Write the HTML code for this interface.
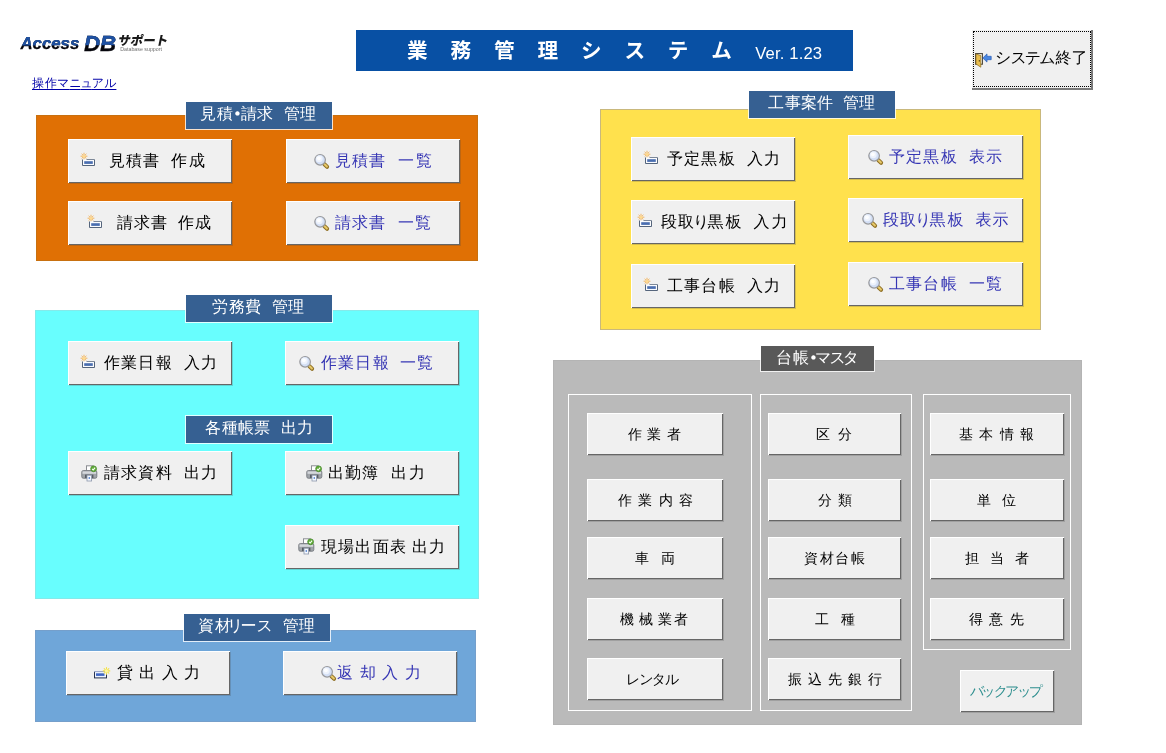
<!DOCTYPE html>
<html lang="ja"><head><meta charset="utf-8"><title>業務管理システム</title><style>
*{box-sizing:border-box;margin:0;padding:0}
html,body{width:1166px;height:753px;overflow:hidden;background:#fff}
body{position:relative;font-family:"Liberation Sans","WenQuanYi Zen Hei","IPAGothic",sans-serif;font-size:16px;color:#000}
.p,.b,.lb,.bx,.ic,.t,.logo,.lnk,.ttl{position:absolute}
i{font-style:normal}
i.w{display:inline-block;height:1px}
.lb{color:#fff;font-size:16px;white-space:nowrap;box-shadow:0 0 0 1px rgba(255,255,255,.8)}
.lb span{position:absolute;display:block;line-height:20px;height:20px}
.b{background:#f0f0f0;border-top:1px solid #fff;border-left:1px solid #fff;box-shadow:inset -1px -1px 0 #666,1px 1px 0 rgba(70,70,70,.22);}
.b .t{white-space:nowrap;display:block;margin:-1px 0 0 -1px;line-height:20px;height:20px}
.b .ic{margin:-1px 0 0 -1px}
.b.foc{box-shadow:inset -2px -2px 0 #7a7a7a}
.b.foc:after{content:"";position:absolute;left:1px;top:1px;right:2px;bottom:3px;border:1px dotted #000}
.bx{border:1px solid #fff}
.logo{will-change:transform;left:0;top:0;width:200px;height:60px;font-weight:bold;font-style:italic;white-space:nowrap}
.logo span{position:absolute;line-height:1;color:#06060c}
.l1{left:20.5px;top:36.2px;font-size:16.8px;padding-right:3px;-webkit-text-stroke:0.25px #06060c}
.l2{left:83.9px;top:32.6px;font-size:22.3px;padding-right:3px;-webkit-text-stroke:0.3px #06060c}
.l1:after,.l2:after{position:absolute;left:0;top:0;color:#1e51a3;-webkit-text-stroke-color:#1e51a3;padding-right:3px}
.l1:after{content:"Access";clip-path:inset(0 0 7.4px 0)}
.l2:after{content:"DB";clip-path:inset(0 0 9.7px 0)}
.logo .l3{left:117.8px;top:34.6px;font-size:12.5px;font-family:"Liberation Sans","Noto Sans CJK JP",sans-serif;font-weight:900;color:#1a1a1a;transform:skewX(-12deg);font-style:normal}
.logo .l4{left:120.2px;top:46.8px;font-size:5.3px;font-weight:normal;font-style:normal;color:#707070}
.lnk{top:76px;font-size:12px;line-height:14px;color:#0000a8;text-decoration:underline;text-underline-offset:2px;text-decoration-thickness:1px;white-space:nowrap}
.ttl{will-change:transform;left:356px;top:30px;width:497px;height:41px;background:#0850a4;color:#fff;white-space:nowrap}
.tj{position:absolute;left:51px;top:9px;font-family:"Liberation Sans","Noto Sans CJK JP",sans-serif;font-weight:bold;font-size:20.6px;line-height:24px;word-spacing:17.16px}
.tv{position:absolute;left:399.3px;top:14.2px;font-size:16.6px;line-height:20px;letter-spacing:0.15px}
</style></head><body>
<div class="logo"><span class="l1">Access</span> <span class="l2">DB</span> <span class="l3">サポート</span> <span class="l4">Database support</span></div>
<a class="lnk" style="left:32px;letter-spacing:0px"><i style="letter-spacing:1px">操</i>作マ<i style="letter-spacing:-1px">ニ</i><i style="letter-spacing:-1px">ュ</i>アル</a>
<div class="ttl"><span class="tj">業 務 管 理 シ ス テ ム</span> <span class="tv">Ver. 1.23</span></div>
<div class="b foc" style="left:971px;top:29px;width:122px;height:61px;"><svg class="ic" style="left:4px;top:24px" width="17" height="15" viewBox="0 0 17 15"><rect x="0.6" y="0.6" width="6.8" height="10.6" fill="#fffdf2" stroke="#4c463a" stroke-width="1.1"/><path d="M1 1l4.8 1.6v11.6L1 11z" fill="#e9bd4d" stroke="#8a6a1c" stroke-width="0.7"/><rect x="3.8" y="7" width="1" height="1.6" fill="#54400c"/><path d="M16.2 3.3h-4.2V.9L7.8 5l4.2 4.1V6.7h4.2z" fill="#4a86e0" stroke="#2a5fb8" stroke-width="0.7"/></svg><span class="t" style="left:24px;top:19px;font-size:16px;letter-spacing:-2px"><i style="letter-spacing:-1px">シ</i>ステ<i style="letter-spacing:0px">ム</i><i style="letter-spacing:0px">終</i>了</span></div>
<div class="p" style="left:36px;top:115px;width:442px;height:146px;background:#e07004;box-shadow:inset 0 0 0 1px #c8700f;"></div>
<div class="lb" style="left:186px;top:102px;width:146px;height:27px;background:#366092;"><span style="left:14px;top:2px;letter-spacing:-4px"><i style="letter-spacing:1px">見</i>積<i style="display:inline-block;transform:scale(1.7);margin-right:-4px;letter-spacing:0">・</i><i style="letter-spacing:0px">請</i><i style="letter-spacing:0">求</i><i class="w" style="width:11px"> </i><i style="letter-spacing:0px">管</i>理</span></div>
<div class="b " style="left:68px;top:139px;width:164px;height:44px;"><svg class="ic" style="left:12px;top:13px" width="16" height="16" viewBox="0 0 16 16"><g stroke="#f2ae4e" stroke-width="0.9" stroke-linecap="round"><path d="M4 1.2v6M1 4.2h6M1.9 2.1l4.2 4.2M6.1 2.1L1.9 6.3"/></g><circle cx="4" cy="4.2" r="1.3" fill="#ffdc90"/><path d="M2.5 7.5v6h12v-6" fill="#fbfcfe" stroke="#55657c" stroke-width="1"/><path d="M6.5 7.5h8" stroke="#7d8898" stroke-width="1"/><rect x="4.2" y="9.2" width="8.6" height="2.7" fill="#4a6eb0"/></svg><span class="t" style="left:41px;top:12px;font-size:16px;letter-spacing:1px">見積<i style="letter-spacing:0">書</i><i class="w" style="width:12px"> </i><i style="letter-spacing:2px">作</i>成</span></div>
<div class="b " style="left:286px;top:139px;width:174px;height:44px;"><svg class="ic" style="left:27px;top:13px" width="17" height="18" viewBox="0 0 17 18"><path d="M11.4 12.2l2.7 2.6" stroke="#8f6f22" stroke-width="4" stroke-linecap="round"/><path d="M11.6 12.3l2.3 2.3" stroke="#e6c869" stroke-width="2.1" stroke-linecap="round"/><circle cx="7.1" cy="7.8" r="5.3" fill="#d3dff5" stroke="#98999c" stroke-width="1.2"/><circle cx="6.3" cy="6.8" r="3.4" fill="#eef3fc"/><circle cx="5.9" cy="6.3" r="1.9" fill="#fdfeff"/></svg><span class="t" style="left:49px;top:12px;font-size:16px;color:#3636b4;letter-spacing:1px">見積<i style="letter-spacing:0">書</i><i class="w" style="width:13px"> </i><i style="letter-spacing:2px">一</i>覧</span></div>
<div class="b " style="left:68px;top:201px;width:164px;height:44px;"><svg class="ic" style="left:19px;top:13px" width="16" height="16" viewBox="0 0 16 16"><g stroke="#f2ae4e" stroke-width="0.9" stroke-linecap="round"><path d="M4 1.2v6M1 4.2h6M1.9 2.1l4.2 4.2M6.1 2.1L1.9 6.3"/></g><circle cx="4" cy="4.2" r="1.3" fill="#ffdc90"/><path d="M2.5 7.5v6h12v-6" fill="#fbfcfe" stroke="#55657c" stroke-width="1"/><path d="M6.5 7.5h8" stroke="#7d8898" stroke-width="1"/><rect x="4.2" y="9.2" width="8.6" height="2.7" fill="#4a6eb0"/></svg><span class="t" style="left:49px;top:12px;font-size:16px;letter-spacing:1px">請求<i style="letter-spacing:0">書</i><i class="w" style="width:11px"> </i>作成</span></div>
<div class="b " style="left:286px;top:201px;width:174px;height:44px;"><svg class="ic" style="left:27px;top:13px" width="17" height="18" viewBox="0 0 17 18"><path d="M11.4 12.2l2.7 2.6" stroke="#8f6f22" stroke-width="4" stroke-linecap="round"/><path d="M11.6 12.3l2.3 2.3" stroke="#e6c869" stroke-width="2.1" stroke-linecap="round"/><circle cx="7.1" cy="7.8" r="5.3" fill="#d3dff5" stroke="#98999c" stroke-width="1.2"/><circle cx="6.3" cy="6.8" r="3.4" fill="#eef3fc"/><circle cx="5.9" cy="6.3" r="1.9" fill="#fdfeff"/></svg><span class="t" style="left:49px;top:12px;font-size:16px;color:#3636b4;letter-spacing:1px">請求<i style="letter-spacing:0">書</i><i class="w" style="width:13px"> </i>一覧</span></div>
<div class="p" style="left:35px;top:310px;width:444px;height:289px;background:#68fefe;box-shadow:inset 0 0 0 1px #84eaea;"></div>
<div class="lb" style="left:186px;top:295px;width:146px;height:27px;background:#366092;"><span style="left:26px;top:2px;letter-spacing:0px"><i style="letter-spacing:1px">労</i>務<i style="letter-spacing:0">費</i><i class="w" style="width:11px"> </i>管理</span></div>
<div class="b " style="left:68px;top:341px;width:164px;height:44px;"><svg class="ic" style="left:12px;top:13px" width="16" height="16" viewBox="0 0 16 16"><g stroke="#f2ae4e" stroke-width="0.9" stroke-linecap="round"><path d="M4 1.2v6M1 4.2h6M1.9 2.1l4.2 4.2M6.1 2.1L1.9 6.3"/></g><circle cx="4" cy="4.2" r="1.3" fill="#ffdc90"/><path d="M2.5 7.5v6h12v-6" fill="#fbfcfe" stroke="#55657c" stroke-width="1"/><path d="M6.5 7.5h8" stroke="#7d8898" stroke-width="1"/><rect x="4.2" y="9.2" width="8.6" height="2.7" fill="#4a6eb0"/></svg><span class="t" style="left:36px;top:12px;font-size:16px;letter-spacing:1px">作業<i style="letter-spacing:2px">日</i><i style="letter-spacing:0">報</i><i class="w" style="width:12px"> </i>入力</span></div>
<div class="b " style="left:285px;top:341px;width:174px;height:44px;"><svg class="ic" style="left:13px;top:13px" width="17" height="18" viewBox="0 0 17 18"><path d="M11.4 12.2l2.7 2.6" stroke="#8f6f22" stroke-width="4" stroke-linecap="round"/><path d="M11.6 12.3l2.3 2.3" stroke="#e6c869" stroke-width="2.1" stroke-linecap="round"/><circle cx="7.1" cy="7.8" r="5.3" fill="#d3dff5" stroke="#98999c" stroke-width="1.2"/><circle cx="6.3" cy="6.8" r="3.4" fill="#eef3fc"/><circle cx="5.9" cy="6.3" r="1.9" fill="#fdfeff"/></svg><span class="t" style="left:36px;top:12px;font-size:16px;color:#3636b4;letter-spacing:1px">作業<i style="letter-spacing:2px">日</i><i style="letter-spacing:0">報</i><i class="w" style="width:11px"> </i>一覧</span></div>
<div class="lb" style="left:186px;top:416px;width:146px;height:27px;background:#366092;"><span style="left:19px;top:2px;letter-spacing:0px"><i style="letter-spacing:1px">各</i>種帳<i style="letter-spacing:0">票</i><i class="w" style="width:11px"> </i>出力</span></div>
<div class="b " style="left:68px;top:451px;width:164px;height:44px;"><svg class="ic" style="left:12.5px;top:13.5px" width="17" height="17" viewBox="0 0 17 17"><rect x="5.5" y="0.8" width="6.5" height="6" fill="#ffffff" stroke="#8a8d92" stroke-width="1"/><rect x="0.8" y="5.6" width="15" height="7.6" rx="1.5" fill="#a0a4a9" stroke="#7b7f85" stroke-width="1"/><rect x="1.5" y="6.4" width="13.6" height="2.4" fill="#d5d8dc"/><rect x="4" y="9.6" width="8.4" height="3.4" fill="#575c63"/><rect x="6" y="10.2" width="4.6" height="5.8" fill="#f4f8ff" stroke="#8c97ab" stroke-width="0.8"/><rect x="7.6" y="12" width="1.4" height="2" fill="#6d95d8"/><circle cx="12.6" cy="3.8" r="2.9" fill="#62ad3a" stroke="#45882a" stroke-width="0.8"/><path d="M11.1 3.8l1.1 1.2 1.9-2.3" stroke="#fff" stroke-width="1.1" fill="none"/></svg><span class="t" style="left:36px;top:12px;font-size:16px;letter-spacing:1px">請求<i style="letter-spacing:2px">資</i><i style="letter-spacing:0">料</i><i class="w" style="width:12px"> </i>出力</span></div>
<div class="b " style="left:285px;top:451px;width:174px;height:44px;"><svg class="ic" style="left:20.5px;top:13.5px" width="17" height="17" viewBox="0 0 17 17"><rect x="5.5" y="0.8" width="6.5" height="6" fill="#ffffff" stroke="#8a8d92" stroke-width="1"/><rect x="0.8" y="5.6" width="15" height="7.6" rx="1.5" fill="#a0a4a9" stroke="#7b7f85" stroke-width="1"/><rect x="1.5" y="6.4" width="13.6" height="2.4" fill="#d5d8dc"/><rect x="4" y="9.6" width="8.4" height="3.4" fill="#575c63"/><rect x="6" y="10.2" width="4.6" height="5.8" fill="#f4f8ff" stroke="#8c97ab" stroke-width="0.8"/><rect x="7.6" y="12" width="1.4" height="2" fill="#6d95d8"/><circle cx="12.6" cy="3.8" r="2.9" fill="#62ad3a" stroke="#45882a" stroke-width="0.8"/><path d="M11.1 3.8l1.1 1.2 1.9-2.3" stroke="#fff" stroke-width="1.1" fill="none"/></svg><span class="t" style="left:43px;top:12px;font-size:16px;letter-spacing:1px">出勤<i style="letter-spacing:0">簿</i><i class="w" style="width:13px"> </i><i style="letter-spacing:2px">出</i>力</span></div>
<div class="b " style="left:285px;top:525px;width:174px;height:44px;"><svg class="ic" style="left:13px;top:13px" width="17" height="17" viewBox="0 0 17 17"><rect x="5.5" y="0.8" width="6.5" height="6" fill="#ffffff" stroke="#8a8d92" stroke-width="1"/><rect x="0.8" y="5.6" width="15" height="7.6" rx="1.5" fill="#a0a4a9" stroke="#7b7f85" stroke-width="1"/><rect x="1.5" y="6.4" width="13.6" height="2.4" fill="#d5d8dc"/><rect x="4" y="9.6" width="8.4" height="3.4" fill="#575c63"/><rect x="6" y="10.2" width="4.6" height="5.8" fill="#f4f8ff" stroke="#8c97ab" stroke-width="0.8"/><rect x="7.6" y="12" width="1.4" height="2" fill="#6d95d8"/><circle cx="12.6" cy="3.8" r="2.9" fill="#62ad3a" stroke="#45882a" stroke-width="0.8"/><path d="M11.1 3.8l1.1 1.2 1.9-2.3" stroke="#fff" stroke-width="1.1" fill="none"/></svg><span class="t" style="left:36px;top:12px;font-size:16px;letter-spacing:1px">現場<i style="letter-spacing:2px">出</i>面<i style="letter-spacing:0">表</i><i class="w" style="width:6px"> </i>出力</span></div>
<div class="p" style="left:35px;top:630px;width:441px;height:92px;background:#6fa6d9;box-shadow:inset 0 0 0 1px #759fcb;"></div>
<div class="lb" style="left:184px;top:614px;width:146px;height:27px;background:#366092;"><span style="left:14px;top:2px;letter-spacing:0px"><i style="letter-spacing:1px">資</i><i style="letter-spacing:-4px">材</i><i style="letter-spacing:-3px">リ</i>ー<i style="letter-spacing:0">ス</i><i class="w" style="width:10px"> </i>管理</span></div>
<div class="b " style="left:66px;top:651px;width:164px;height:44px;"><svg class="ic" style="left:27px;top:15.5px" width="18" height="14" viewBox="0 0 18 14"><rect x="1.5" y="4.5" width="12" height="6.4" fill="#eef4ff" stroke="#27324f" stroke-width="1"/><path d="M1 4.6h12.6" stroke="#aab6d6" stroke-width="1"/><rect x="3" y="6.3" width="8.5" height="2.6" fill="#3f66c4"/><g stroke="#f2e04a" stroke-width="1.1" stroke-linecap="round"><path d="M13.5 .6v6.6M10.2 3.9h6.6M11.2 1.6l4.6 4.6M15.8 1.6l-4.6 4.6"/></g><circle cx="13.5" cy="3.9" r="1.6" fill="#fff7a0"/></svg><span class="t" style="left:51px;top:12px;font-size:16px;letter-spacing:0px"><i style="letter-spacing:0">貸</i><i class="w" style="width:6px"> </i><i style="letter-spacing:0">出</i><i class="w" style="width:7px"> </i><i style="letter-spacing:0">入</i><i class="w" style="width:6px"> </i>力</span></div>
<div class="b " style="left:283px;top:651px;width:174px;height:44px;"><svg class="ic" style="left:37px;top:13px" width="17" height="18" viewBox="0 0 17 18"><path d="M11.4 12.2l2.7 2.6" stroke="#8f6f22" stroke-width="4" stroke-linecap="round"/><path d="M11.6 12.3l2.3 2.3" stroke="#e6c869" stroke-width="2.1" stroke-linecap="round"/><circle cx="7.1" cy="7.8" r="5.3" fill="#d3dff5" stroke="#98999c" stroke-width="1.2"/><circle cx="6.3" cy="6.8" r="3.4" fill="#eef3fc"/><circle cx="5.9" cy="6.3" r="1.9" fill="#fdfeff"/></svg><span class="t" style="left:54px;top:12px;font-size:16px;color:#3636b4;letter-spacing:0px"><i style="letter-spacing:0">返</i><i class="w" style="width:7px"> </i><i style="letter-spacing:0">却</i><i class="w" style="width:6px"> </i><i style="letter-spacing:0">入</i><i class="w" style="width:7px"> </i>力</span></div>
<div class="p" style="left:600px;top:109px;width:441px;height:221px;background:#ffe14d;box-shadow:inset 0 0 0 1px #c9b87c;"></div>
<div class="lb" style="left:749px;top:91px;width:146px;height:27px;background:#366092;"><span style="left:19px;top:2px;letter-spacing:0px"><i style="letter-spacing:1px">工</i>事案<i style="letter-spacing:0">件</i><i class="w" style="width:10px"> </i>管理</span></div>
<div class="b " style="left:631px;top:137px;width:164px;height:44px;"><svg class="ic" style="left:12px;top:13px" width="16" height="16" viewBox="0 0 16 16"><g stroke="#f2ae4e" stroke-width="0.9" stroke-linecap="round"><path d="M4 1.2v6M1 4.2h6M1.9 2.1l4.2 4.2M6.1 2.1L1.9 6.3"/></g><circle cx="4" cy="4.2" r="1.3" fill="#ffdc90"/><path d="M2.5 7.5v6h12v-6" fill="#fbfcfe" stroke="#55657c" stroke-width="1"/><path d="M6.5 7.5h8" stroke="#7d8898" stroke-width="1"/><rect x="4.2" y="9.2" width="8.6" height="2.7" fill="#4a6eb0"/></svg><span class="t" style="left:36px;top:12px;font-size:16px;letter-spacing:1px">予定<i style="letter-spacing:2px">黒</i><i style="letter-spacing:0">板</i><i class="w" style="width:12px"> </i>入力</span></div>
<div class="b " style="left:631px;top:200px;width:164px;height:44px;"><svg class="ic" style="left:6px;top:13px" width="16" height="16" viewBox="0 0 16 16"><g stroke="#f2ae4e" stroke-width="0.9" stroke-linecap="round"><path d="M4 1.2v6M1 4.2h6M1.9 2.1l4.2 4.2M6.1 2.1L1.9 6.3"/></g><circle cx="4" cy="4.2" r="1.3" fill="#ffdc90"/><path d="M2.5 7.5v6h12v-6" fill="#fbfcfe" stroke="#55657c" stroke-width="1"/><path d="M6.5 7.5h8" stroke="#7d8898" stroke-width="1"/><rect x="4.2" y="9.2" width="8.6" height="2.7" fill="#4a6eb0"/></svg><span class="t" style="left:30px;top:12px;font-size:16px;letter-spacing:2px"><i style="letter-spacing:1px">段</i><i style="letter-spacing:-1px">取</i><i style="letter-spacing:-2px">り</i>黒<i style="letter-spacing:0">板</i><i class="w" style="width:12px"> </i>入力</span></div>
<div class="b " style="left:631px;top:264px;width:164px;height:44px;"><svg class="ic" style="left:12px;top:13px" width="16" height="16" viewBox="0 0 16 16"><g stroke="#f2ae4e" stroke-width="0.9" stroke-linecap="round"><path d="M4 1.2v6M1 4.2h6M1.9 2.1l4.2 4.2M6.1 2.1L1.9 6.3"/></g><circle cx="4" cy="4.2" r="1.3" fill="#ffdc90"/><path d="M2.5 7.5v6h12v-6" fill="#fbfcfe" stroke="#55657c" stroke-width="1"/><path d="M6.5 7.5h8" stroke="#7d8898" stroke-width="1"/><rect x="4.2" y="9.2" width="8.6" height="2.7" fill="#4a6eb0"/></svg><span class="t" style="left:36px;top:12px;font-size:16px;letter-spacing:1px">工事<i style="letter-spacing:2px">台</i><i style="letter-spacing:0">帳</i><i class="w" style="width:12px"> </i>入力</span></div>
<div class="b " style="left:848px;top:135px;width:175px;height:44px;"><svg class="ic" style="left:18.5px;top:13px" width="17" height="18" viewBox="0 0 17 18"><path d="M11.4 12.2l2.7 2.6" stroke="#8f6f22" stroke-width="4" stroke-linecap="round"/><path d="M11.6 12.3l2.3 2.3" stroke="#e6c869" stroke-width="2.1" stroke-linecap="round"/><circle cx="7.1" cy="7.8" r="5.3" fill="#d3dff5" stroke="#98999c" stroke-width="1.2"/><circle cx="6.3" cy="6.8" r="3.4" fill="#eef3fc"/><circle cx="5.9" cy="6.3" r="1.9" fill="#fdfeff"/></svg><span class="t" style="left:41px;top:12px;font-size:16px;color:#3636b4;letter-spacing:1px">予定<i style="letter-spacing:2px">黒</i><i style="letter-spacing:0">板</i><i class="w" style="width:12px"> </i>表示</span></div>
<div class="b " style="left:848px;top:198px;width:175px;height:44px;"><svg class="ic" style="left:12.5px;top:13px" width="17" height="18" viewBox="0 0 17 18"><path d="M11.4 12.2l2.7 2.6" stroke="#8f6f22" stroke-width="4" stroke-linecap="round"/><path d="M11.6 12.3l2.3 2.3" stroke="#e6c869" stroke-width="2.1" stroke-linecap="round"/><circle cx="7.1" cy="7.8" r="5.3" fill="#d3dff5" stroke="#98999c" stroke-width="1.2"/><circle cx="6.3" cy="6.8" r="3.4" fill="#eef3fc"/><circle cx="5.9" cy="6.3" r="1.9" fill="#fdfeff"/></svg><span class="t" style="left:35px;top:12px;font-size:16px;color:#3636b4;letter-spacing:1px">段<i style="letter-spacing:-1px">取</i><i style="letter-spacing:-2px">り</i><i style="letter-spacing:2px">黒</i><i style="letter-spacing:0">板</i><i class="w" style="width:12px"> </i>表示</span></div>
<div class="b " style="left:848px;top:262px;width:175px;height:44px;"><svg class="ic" style="left:18.5px;top:13px" width="17" height="18" viewBox="0 0 17 18"><path d="M11.4 12.2l2.7 2.6" stroke="#8f6f22" stroke-width="4" stroke-linecap="round"/><path d="M11.6 12.3l2.3 2.3" stroke="#e6c869" stroke-width="2.1" stroke-linecap="round"/><circle cx="7.1" cy="7.8" r="5.3" fill="#d3dff5" stroke="#98999c" stroke-width="1.2"/><circle cx="6.3" cy="6.8" r="3.4" fill="#eef3fc"/><circle cx="5.9" cy="6.3" r="1.9" fill="#fdfeff"/></svg><span class="t" style="left:41px;top:12px;font-size:16px;color:#3636b4;letter-spacing:1px">工事<i style="letter-spacing:2px">台</i><i style="letter-spacing:0">帳</i><i class="w" style="width:12px"> </i>一覧</span></div>
<div class="p" style="left:553px;top:360px;width:529px;height:365px;background:#bababa;box-shadow:inset 0 0 0 1px #b4b4b4;"></div>
<div class="bx" style="left:568px;top:394px;width:184px;height:317px"></div>
<div class="bx" style="left:760px;top:394px;width:152px;height:317px"></div>
<div class="bx" style="left:923px;top:394px;width:148px;height:256px"></div>
<div class="lb" style="left:761px;top:346px;width:113px;height:25px;background:#595959;"><span style="left:15px;top:2px;letter-spacing:1px">台<i style="letter-spacing:-4px">帳</i><i style="display:inline-block;transform:scale(1.7);margin-right:-6px;letter-spacing:0">・</i><i style="letter-spacing:-2px">マ</i><i style="letter-spacing:-3px">ス</i>タ</span></div>
<div class="b s" style="left:587px;top:413px;width:136px;height:42px;"><span class="t" style="left:41px;top:11px;font-size:14px;letter-spacing:0px"><i style="letter-spacing:0">作</i><i class="w" style="width:5px"> </i><i style="letter-spacing:0">業</i><i class="w" style="width:6px"> </i>者</span></div>
<div class="b s" style="left:587px;top:479px;width:136px;height:42px;"><span class="t" style="left:31px;top:11px;font-size:14px;letter-spacing:0px"><i style="letter-spacing:0">作</i><i class="w" style="width:6px"> </i><i style="letter-spacing:0">業</i><i class="w" style="width:7px"> </i><i style="letter-spacing:0">内</i><i class="w" style="width:6px"> </i>容</span></div>
<div class="b s" style="left:587px;top:537px;width:136px;height:42px;"><span class="t" style="left:48px;top:11px;font-size:14px;letter-spacing:0px"><i style="letter-spacing:0">車</i><i class="w" style="width:12px"> </i>両</span></div>
<div class="b s" style="left:587px;top:598px;width:136px;height:42px;"><span class="t" style="left:33px;top:11px;font-size:14px;letter-spacing:2px"><i style="letter-spacing:0">機</i><i class="w" style="width:5px"> </i><i style="letter-spacing:0">械</i><i class="w" style="width:5px"> </i>業者</span></div>
<div class="b s" style="left:587px;top:658px;width:136px;height:42px;"><span class="t" style="left:39px;top:11px;font-size:14px;letter-spacing:-1px">レ<i style="letter-spacing:-2px">ン</i>タル</span></div>
<div class="b s" style="left:768px;top:413px;width:133px;height:42px;"><span class="t" style="left:48px;top:11px;font-size:14px;letter-spacing:0px"><i style="letter-spacing:0">区</i><i class="w" style="width:8px"> </i>分</span></div>
<div class="b s" style="left:768px;top:479px;width:133px;height:42px;"><span class="t" style="left:50px;top:11px;font-size:14px;letter-spacing:0px"><i style="letter-spacing:0">分</i><i class="w" style="width:6px"> </i>類</span></div>
<div class="b s" style="left:768px;top:537px;width:133px;height:42px;"><span class="t" style="left:36px;top:11px;font-size:14px;letter-spacing:2px">資<i style="letter-spacing:1px">材</i>台帳</span></div>
<div class="b s" style="left:768px;top:598px;width:133px;height:42px;"><span class="t" style="left:47px;top:11px;font-size:14px;letter-spacing:0px"><i style="letter-spacing:0">工</i><i class="w" style="width:12px"> </i>種</span></div>
<div class="b s" style="left:768px;top:658px;width:133px;height:42px;"><span class="t" style="left:20px;top:11px;font-size:14px;letter-spacing:0px"><i style="letter-spacing:0">振</i><i class="w" style="width:6px"> </i><i style="letter-spacing:0">込</i><i class="w" style="width:6px"> </i><i style="letter-spacing:0">先</i><i class="w" style="width:6px"> </i><i style="letter-spacing:0">銀</i><i class="w" style="width:6px"> </i>行</span></div>
<div class="b s" style="left:930px;top:413px;width:134px;height:42px;"><span class="t" style="left:29px;top:11px;font-size:14px;letter-spacing:0px"><i style="letter-spacing:0">基</i><i class="w" style="width:6px"> </i><i style="letter-spacing:0">本</i><i class="w" style="width:7px"> </i><i style="letter-spacing:0">情</i><i class="w" style="width:6px"> </i>報</span></div>
<div class="b s" style="left:930px;top:479px;width:134px;height:42px;"><span class="t" style="left:47px;top:11px;font-size:14px;letter-spacing:0px"><i style="letter-spacing:0">単</i><i class="w" style="width:11px"> </i>位</span></div>
<div class="b s" style="left:930px;top:537px;width:134px;height:42px;"><span class="t" style="left:35px;top:11px;font-size:14px;letter-spacing:0px"><i style="letter-spacing:0">担</i><i class="w" style="width:11px"> </i><i style="letter-spacing:0">当</i><i class="w" style="width:11px"> </i>者</span></div>
<div class="b s" style="left:930px;top:598px;width:134px;height:42px;"><span class="t" style="left:39px;top:11px;font-size:14px;letter-spacing:0px"><i style="letter-spacing:0">得</i><i class="w" style="width:6px"> </i><i style="letter-spacing:0">意</i><i class="w" style="width:7px"> </i>先</span></div>
<div class="b s" style="left:960px;top:670px;width:94px;height:42px;"><span class="t" style="left:10px;top:11px;font-size:14px;color:#2f8f8f;letter-spacing:-3px">バ<i style="letter-spacing:-2px">ッ</i>ク<i style="letter-spacing:-2px">ア</i>ップ</span></div>
</body></html>
